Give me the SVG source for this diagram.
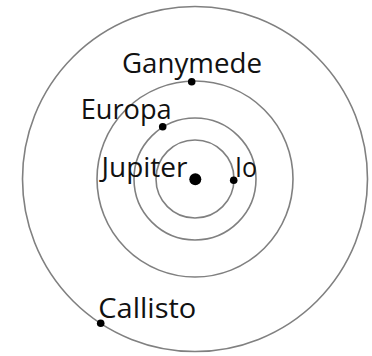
<svg xmlns="http://www.w3.org/2000/svg" width="372" height="356" viewBox="0 0 372 356">
<style>
.orbit{fill:none;stroke:#808080;stroke-width:1.6}
.moon{fill:#000}
.lbl{font-family:"Open Sans","Noto Sans","DejaVu Sans",sans-serif;font-size:27px;fill:#111}
</style>
<rect width="372" height="356" fill="#fff"/>
<g id="orbits">
<circle class="orbit" cx="195" cy="179" r="39"/>
<circle class="orbit" cx="195" cy="179" r="61"/>
<circle class="orbit" cx="195" cy="179" r="98"/>
<circle class="orbit" cx="195" cy="179" r="172.5"/>
</g>
<g id="jupiter"><circle class="moon" cx="195.3" cy="179.3" r="6"/><text class="lbl" x="101.5" y="176.7" textLength="86" lengthAdjust="spacingAndGlyphs">Jupiter</text></g>
<g id="io"><circle class="moon" cx="233.7" cy="180.3" r="3.8"/><text class="lbl" x="235" y="176.7" textLength="22" lengthAdjust="spacingAndGlyphs">Io</text></g>
<g id="europa"><circle class="moon" cx="162.7" cy="126.7" r="3.8"/><text class="lbl" x="80.7" y="119.3" textLength="91" lengthAdjust="spacingAndGlyphs">Europa</text></g>
<g id="ganymede"><circle class="moon" cx="191.7" cy="81.7" r="3.8"/><text class="lbl" x="122" y="72.7" textLength="140" lengthAdjust="spacingAndGlyphs">Ganymede</text></g>
<g id="callisto"><circle class="moon" cx="100.7" cy="323.3" r="3.8"/><text class="lbl" x="98.3" y="318.3" textLength="98" lengthAdjust="spacingAndGlyphs">Callisto</text></g>
</svg>
